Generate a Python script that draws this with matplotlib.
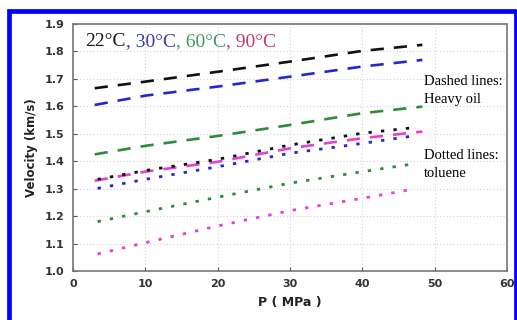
import matplotlib.pyplot as plt
from matplotlib.patches import Rectangle

p_oil = [3.0, 10, 20, 30, 40, 48.3]
p_tol = [3.4, 10, 20, 30, 40, 47]

# heavy oil (dashed)
oil_22 = [1.666, 1.690, 1.726, 1.763, 1.802, 1.824]
oil_30 = [1.605, 1.639, 1.672, 1.708, 1.745, 1.769]
oil_60 = [1.425, 1.456, 1.492, 1.532, 1.575, 1.599]
oil_90 = [1.329, 1.362, 1.398, 1.447, 1.484, 1.508]

# toluene (dotted)
tol_22 = [1.334, 1.366, 1.407, 1.459, 1.502, 1.522]
tol_30 = [1.301, 1.334, 1.380, 1.429, 1.465, 1.492]
tol_60 = [1.180, 1.216, 1.269, 1.320, 1.362, 1.390]
tol_90 = [1.062, 1.103, 1.164, 1.220, 1.265, 1.298]

temps = ['22°C', '30°C', '60°C', '90°C']
text_cols = ['#1a1a1a', '#3a3aaa', '#3a9a60', '#c8386a']
line_cols = ['#111111', '#2626d0', '#2f8a3a', '#e83fd0']

fig = plt.figure(figsize=(5.17, 3.2), dpi=100)
ax = fig.add_axes([73/517, 49/320, 434/517, 247/320])

for v, c in zip([oil_22, oil_30, oil_60, oil_90], line_cols):
    ax.plot(p_oil, v, color=c, lw=1.9, dashes=(5, 3.8))
for v, c in zip([tol_22, tol_30, tol_60, tol_90], line_cols):
    ax.plot(p_tol, v, color=c, lw=2.0, dashes=(1.2, 3.3))

ax.set_xlim(0, 60)
ax.set_ylim(1.0, 1.9)
ax.set_xticks(range(0, 61, 10))
ax.set_yticks([1.0, 1.1, 1.2, 1.3, 1.4, 1.5, 1.6, 1.7, 1.8, 1.9])
ax.set_yticklabels(['1.0', '1.1', '1.2', '1.3', '1.4', '1.5', '1.6', '1.7', '1.8', '1.9'])
ax.grid(True, color='#d0d0e0', linestyle=(0, (1, 2)), lw=0.8)
ax.tick_params(direction='in', length=3, width=0.8, colors='#555555',
               labelcolor='#333333', labelsize=8, pad=6)
for lab in ax.get_xticklabels() + ax.get_yticklabels():
    lab.set_fontweight('bold')
for s in ax.spines.values():
    s.set_color('#777777')
    s.set_linewidth(1.2)

ax.set_xlabel('P ( MPa )', fontsize=9, fontweight='bold', color='#222222', labelpad=5)
ax.set_ylabel('Velocity (km/s)', fontsize=8.5, fontweight='bold', color='#222222', labelpad=5)

# coloured temperature header
t = ax.text(0.028, 0.965, temps[0], transform=ax.transAxes, family='Liberation Serif',
            fontsize=14, color=text_cols[0], va='top')
for name, c in zip(temps[1:], text_cols[1:]):
    t = ax.annotate(', ' + name, xy=(1, 0), xycoords=t, xytext=(0, 0),
                    textcoords='offset points', family='Liberation Serif',
                    fontsize=14, color=c, va='bottom')

ax.text(48.5, 1.69, 'Dashed lines:', family='Liberation Serif', fontsize=10.5, va='center')
ax.text(48.5, 1.625, 'Heavy oil', family='Liberation Serif', fontsize=10.5, va='center')
ax.text(48.5, 1.42, 'Dotted lines:', family='Liberation Serif', fontsize=10.5, va='center')
ax.text(48.5, 1.355, 'toluene', family='Liberation Serif', fontsize=10.5, va='center')

# blue frame round the figure
fig.patches.append(Rectangle((9.3/517, -0.1), 507/517, 1.1 - 10.8/320,
                             transform=fig.transFigure, fill=False,
                             edgecolor='#0000ff', lw=3.4, clip_on=False))

fig.savefig('out.png', dpi=100)
